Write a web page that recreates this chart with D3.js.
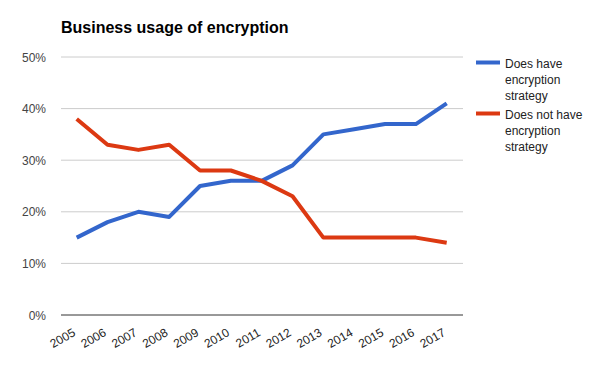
<!DOCTYPE html>
<html>
<head>
<meta charset="utf-8">
<script src="https://cdn.jsdelivr.net/npm/d3@7"></script>
<style>
  body { margin: 0; background: #fff; font-family: Arial, "Liberation Sans", sans-serif; }
  .chart text { font-family: Arial, "Liberation Sans", sans-serif; }
</style>
</head>
<body>
<div class="chart"></div>
<script>
'use strict';

var years = ['2005', '2006', '2007', '2008', '2009', '2010', '2011', '2012', '2013', '2014', '2015', '2016', '2017'];
var doesHave = [15, 18, 20, 19, 25, 26, 26, 29, 35, 36, 37, 37, 41];
var doesNotHave = [38, 33, 32, 33, 28, 28, 26, 23, 15, 15, 15, 15, 14];
var yTicks = [0, 10, 20, 30, 40, 50];
var seriesNames = [['Does have', 'encryption', 'strategy'], ['Does not have', 'encryption', 'strategy']];
var seriesColors = ['#3366cc', '#dc3912'];

var width = 600, height = 372;
var svg = d3.select('.chart').append('svg')
  .attr('width', width)
  .attr('height', height);

var x = d3.scalePoint()
  .domain(years)
  .range([76.7, 446.7]);

var y = d3.scaleLinear()
  .domain([0, 50])
  .range([315, 57]);

// title
svg.append('text')
  .attr('x', 61)
  .attr('y', 33)
  .style('font-size', '16px')
  .style('font-weight', 'bold')
  .style('fill', '#000')
  .text('Business usage of encryption');

// gridlines
svg.append('g')
  .selectAll('line')
  .data(yTicks.filter(function(d) { return d > 0; }))
  .enter()
  .append('line')
  .attr('x1', 61)
  .attr('x2', 463)
  .attr('y1', function(d) { return y(d); })
  .attr('y2', function(d) { return y(d); })
  .style('stroke', '#cccccc')
  .style('stroke-width', 1);

// y labels
svg.append('g')
  .selectAll('text')
  .data(yTicks)
  .enter()
  .append('text')
  .attr('x', 46)
  .attr('y', function(d) { return y(d) + 4.5; })
  .attr('text-anchor', 'end')
  .style('font-size', '12px')
  .style('fill', '#444')
  .text(function(d) { return d + '%'; });

// x labels, rotated
svg.append('g')
  .selectAll('text')
  .data(years)
  .enter()
  .append('text')
  .attr('transform', function(d) { return 'translate(' + (x(d) - 0.5) + ',335) rotate(-30)'; })
  .attr('text-anchor', 'end')
  .style('font-size', '12px')
  .style('fill', '#222')
  .text(function(d) { return d; });

// lines
var line = d3.line()
  .x(function(d, i) { return x(years[i]); })
  .y(function(d) { return y(d); });

[doesHave, doesNotHave].forEach(function(values, i) {
  svg.append('path')
    .datum(values)
    .attr('d', line)
    .style('fill', 'none')
    .style('stroke', seriesColors[i])
    .style('stroke-width', 4)
    .style('stroke-linejoin', 'round');
});

// baseline
svg.append('line')
  .attr('x1', 61)
  .attr('x2', 463)
  .attr('y1', y(0))
  .attr('y2', y(0))
  .style('stroke', '#333')
  .style('stroke-width', 1);

// legend
var legend = svg.append('g');
seriesNames.forEach(function(lines, i) {
  var top = 63 + i * 51;
  legend.append('line')
    .attr('x1', 476)
    .attr('x2', 500)
    .attr('y1', top - 0.5)
    .attr('y2', top - 0.5)
    .style('stroke', seriesColors[i])
    .style('stroke-width', 4);
  var t = legend.append('text')
    .style('font-size', '12px')
    .style('fill', '#222');
  lines.forEach(function(s, j) {
    t.append('tspan')
      .attr('x', 505)
      .attr('y', top + 4.5 + j * 16)
      .text(s);
  });
});
</script>
</body>
</html>
